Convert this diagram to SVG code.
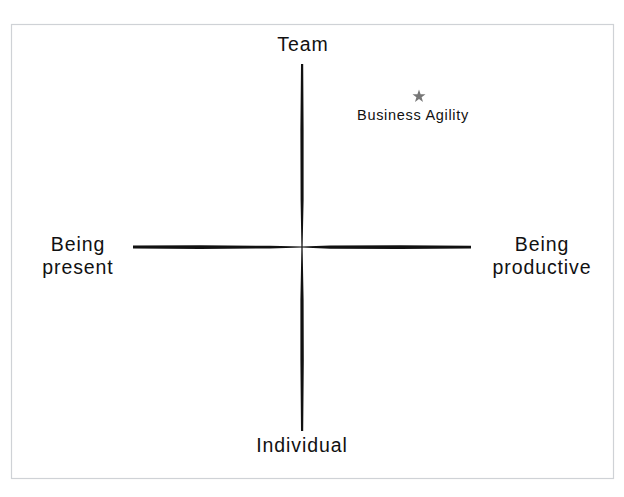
<svg xmlns="http://www.w3.org/2000/svg" width="624" height="497" viewBox="0 0 624 497">
<style>
.lbl{font-family:"Liberation Sans",Arial,sans-serif;fill:#111;text-anchor:middle}
.big{font-size:19.5px;letter-spacing:0.9px}
.small{font-size:14.5px;letter-spacing:0.7px}
.stroke{fill:#111}
</style>
<rect x="0" y="0" width="624" height="497" fill="#fff"/>
<rect x="11.5" y="24.5" width="602" height="454" fill="#fff" stroke="#cfd2d6" stroke-width="1.2"/>
<g id="connectors">
<polygon class="stroke" points="301,64 303.2,64 303.6,130 303.6,200 302.6,247 303.6,300 303.8,360 303.2,431 301,431 300.4,360 300.4,300 301.4,247 300.6,200 300.4,130"/>
<polygon class="stroke" points="133,245.6 200,245.2 270,245.8 302,246.6 330,245.6 400,245.3 471,245.8 471,248.4 400,248.9 330,248.8 302,247.6 270,248.4 200,249 133,248.6"/>
</g>
<g id="team"><text class="lbl big" x="303" y="51">Team</text></g>
<g id="individual"><text class="lbl big" x="302" y="452">Individual</text></g>
<g id="being-present"><text class="lbl big" x="78" y="251">Being</text><text class="lbl big" x="78" y="274">present</text></g>
<g id="being-productive"><text class="lbl big" x="542" y="251">Being</text><text class="lbl big" x="542" y="274">productive</text></g>
<g id="business-agility">
<polygon fill="#777" points="419,89.5 420.6,94.2 425.5,94.3 421.6,97.2 423,102 419,99.1 415,102 416.4,97.2 412.5,94.3 417.4,94.2"/>
<text class="lbl small" x="413" y="120">Business Agility</text>
</g>
</svg>
